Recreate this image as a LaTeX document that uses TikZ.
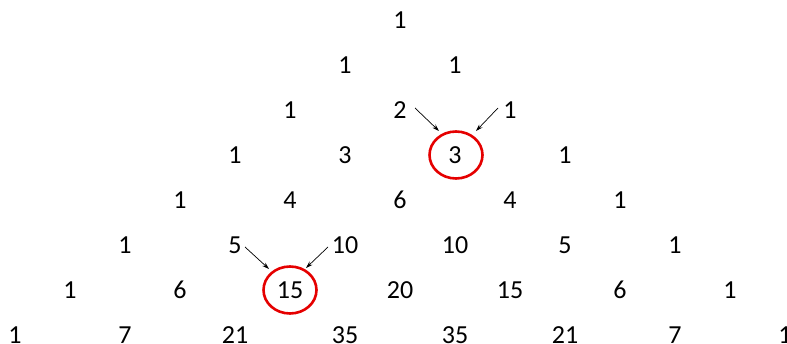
\documentclass[tikz,border=0pt]{standalone}
\usepackage{fontspec}
\setmainfont{Carlito}
\usetikzlibrary{arrows.meta,calc,shapes.geometric}

\begin{document}
\begin{tikzpicture}[x=1pt, y=-1pt,
    every node/.style={font=\fontsize{26}{30}\selectfont},
    num/.style={inner sep=2pt},
    hl/.style={draw=red!90!black, line width=2.6pt, ellipse, minimum width=53pt, minimum height=47pt},
    arr/.style={-{Stealth[length=7pt,width=4.5pt]}, line width=0.7pt}]
  \useasboundingbox (0,0) rectangle (787,344);
  % the rows of the triangle
  \foreach \vals [count=\rw from 0] in {{1},{1,1},{1,2,1},{1,3,3,1},{1,4,6,4,1},
      {1,5,10,10,5,1},{1,6,15,20,15,6,1},{1,7,21,35,35,21,7,1}}
    \foreach \v [count=\cl from 0] in \vals
      \node[num] (n\rw-\cl) at ({400+55*(2*\cl-\rw)},{20+45*\rw}) {\v};
  % the two sums
  \node[hl] (c1) at ($(n3-2)+(1,0)$) {};
  \node[hl] (c2) at ($(n6-2)+(0,0)$) {};
  \draw[arr] ($(n2-1)+(15,-2)$) -- ($(c1)+(-17,-24)$);
  \draw[arr] ($(n2-2)+(-12,-2)$) -- ($(c1)+(20,-24)$);
  \draw[arr] ($(n5-1)+(10,2)$) -- ($(c2)+(-21,-21)$);
  \draw[arr] ($(n5-2)+(-17,2)$) -- ($(c2)+(16,-22)$);
\end{tikzpicture}
\end{document}
